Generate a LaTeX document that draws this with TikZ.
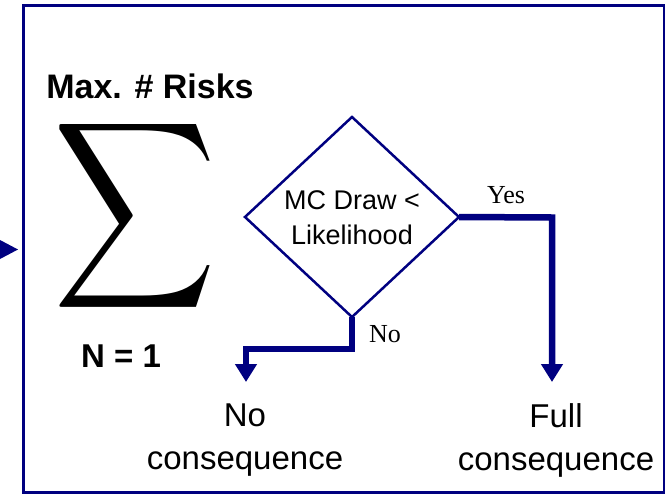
\documentclass[tikz,border=0pt]{standalone}
\usepackage{fontspec}
\usepackage{graphicx}
\setmainfont{Liberation Sans}
\newfontfamily\timesf{Liberation Serif}
\usetikzlibrary{shapes.geometric,arrows.meta}
\definecolor{navy}{RGB}{0,0,128}
\begin{document}
\begin{tikzpicture}[x=1pt,y=-1pt,
  flow/.style={draw=navy, line width=6.5pt, line join=miter, -{Triangle[length=18pt,width=21pt]}},
  bigtxt/.style={font=\fontsize{33}{43}\selectfont, align=center, inner sep=0pt},
  boldtxt/.style={font=\fontsize{34}{40}\selectfont\bfseries, inner sep=0pt, anchor=base},
  qtxt/.style={font=\fontsize{27}{35}\selectfont, align=center, inner sep=0pt},
  yn/.style={font=\fontsize{26}{30}\selectfont\timesf, inner sep=0pt, anchor=base}]
\useasboundingbox (0,0) rectangle (666,493);
% frame
\draw[navy, line width=2.5pt] (23.5,5.5) rectangle (664,492.5);
% incoming arrow head (clipped at left edge)
\fill[navy] (0,240) -- (18,249.5) -- (0,259) -- cycle;
% left part
\node[boldtxt] (max) at (150,98) {Max. \# Risks};
\node[inner sep=0pt] (sig) at (135,215.5) {\resizebox*{163pt}{209pt}{$\displaystyle\sum$}};
\node[boldtxt, font=\fontsize{33}{40}\selectfont\bfseries] (n1) at (121,367) {N = 1};
% decision
\node[diamond, draw=navy, line width=2.5pt, minimum width=214pt, minimum height=200pt, inner sep=0pt, outer sep=0pt] (dec) at (352,217) {};
\node[qtxt] (qt) at (352,218) {MC Draw <\\Likelihood};
\coordinate (yesc) at (552,217.5);
\coordinate (yesend) at (552,382);
\coordinate (noc1) at (352,349);
\coordinate (noc2) at (246,349);
\coordinate (noend) at (246,382);
\draw[flow] (dec.east) -- (yesc) -- (yesend);
\draw[flow] (dec.south) -- (noc1) -- (noc2) -- (noend);
\node[yn] (yes) at (506,203) {Yes};
\node[yn] (no) at (385,342) {No};
% outcomes
\node[bigtxt] (noc) at (245,440) {No\\consequence};
\node[bigtxt] (full) at (556,440) {Full\\consequence};
\end{tikzpicture}
\end{document}
